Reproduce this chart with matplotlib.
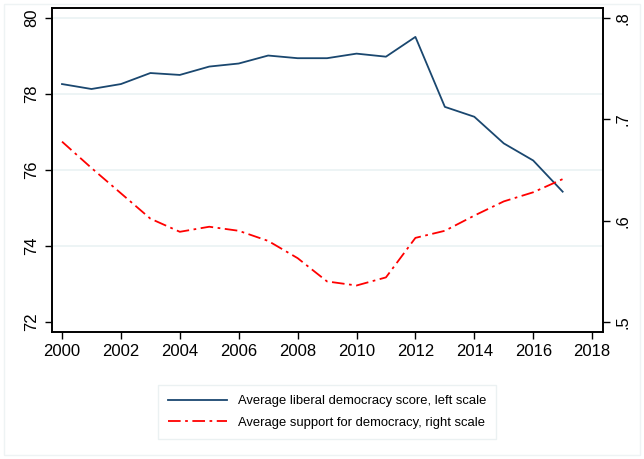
import matplotlib
matplotlib.use("Agg")
import matplotlib.pyplot as plt
from matplotlib.lines import Line2D
from matplotlib.patches import Rectangle

plt.rcParams["font.family"] = ["Liberation Sans", "DejaVu Sans"]

years = list(range(2000, 2018))
liberal_democracy = [78.26, 78.13, 78.26, 78.55, 78.50, 78.72, 78.80, 79.01, 78.94,
                     78.94, 79.06, 78.98, 79.50, 77.66, 77.40, 76.70, 76.25, 75.43]
support_democracy = [0.678, 0.652, 0.627, 0.602, 0.589, 0.594, 0.590, 0.580, 0.563,
                     0.540, 0.536, 0.544, 0.583, 0.590, 0.605, 0.619, 0.628, 0.641]

x_ticks = list(range(2000, 2019, 2))
left_ticks = [72, 74, 76, 78, 80]
right_ticks = [0.5, 0.6, 0.7, 0.8]
right_labels = [".5", ".6", ".7", ".8"]
legend_labels = ["Average liberal democracy score, left scale",
                 "Average support for democracy, right scale"]

NAVY = "#1a476f"
GRID = "#eaf2f3"
DASH = (7, 2.5, 1.5, 2.5)

W, H = 644, 459
fig = plt.figure(figsize=(W / 100, H / 100), dpi=100)
fig.patch.set_facecolor("white")

# faint outer frame of the graph region
fig.add_artist(Rectangle((4 / W, 4 / H), (W - 8) / W, (H - 8) / H,
                         transform=fig.transFigure, fill=False,
                         edgecolor="#eef3f4", linewidth=1))

ax = fig.add_axes([52 / W, 1 - 332 / H, (603 - 52) / W, (332 - 8) / H])
ax2 = ax.twinx()

ax.plot(years, liberal_democracy, color=NAVY, linewidth=1.3, zorder=3)
ax2.plot(years, support_democracy, color="red", linewidth=1.3, dashes=DASH, zorder=3)

ax.set_xlim(1999.66, 2018.37)
ax.set_ylim(71.74, 80.26)
ax2.set_ylim(0.4901, 0.8099)

ax.set_xticks(x_ticks)
ax.set_yticks(left_ticks)
ax2.set_yticks(right_ticks)
ax2.set_yticklabels(right_labels)

for t in [74, 76, 78, 80]:
    ax.axhline(t, color=GRID, linewidth=1.2, zorder=1)

for a in (ax, ax2):
    for s in a.spines.values():
        s.set_linewidth(1.2)
        s.set_color("black")

ax.tick_params(axis="x", direction="out", length=5, width=1, labelsize=12, pad=4)
ax.tick_params(axis="y", direction="out", length=5, width=1, labelsize=12, pad=4,
               labelrotation=90)
ax2.tick_params(axis="y", direction="out", length=5, width=1, labelsize=12, pad=4,
                labelrotation=90)
for lbl in ax.get_yticklabels() + ax2.get_yticklabels():
    lbl.set_verticalalignment("center")

handles = [Line2D([], [], color=NAVY, linewidth=1.3),
           Line2D([], [], color="red", linewidth=1.3, dashes=DASH)]
leg = fig.legend(handles, legend_labels, loc="center",
                 bbox_to_anchor=(327 / W, 1 - 412 / H), fontsize=9.4,
                 frameon=True, fancybox=False, handlelength=4.5,
                 handletextpad=0.85, borderpad=0.75, labelspacing=0.75)
leg.get_frame().set_edgecolor("#e6eeef")
leg.get_frame().set_linewidth(1)

fig.savefig("out.png", dpi=100)
